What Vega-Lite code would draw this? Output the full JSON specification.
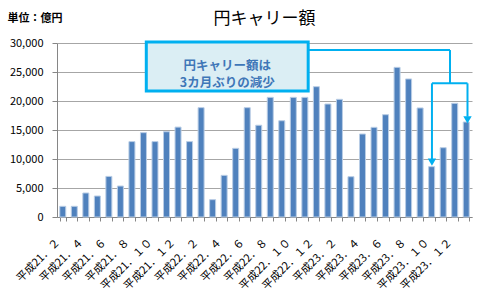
{
  "$schema": "https://vega.github.io/schema/vega-lite/v6.json",
  "width": 415,
  "height": 174,
  "autosize": "none",
  "padding": {"left": 57, "top": 43, "right": 5, "bottom": 71},
  "background": "white",
  "config": {
    "view": {"stroke": null},
    "font": "Noto Sans CJK JP",
    "axis": {"labelFont": "Noto Sans CJK JP", "titleFont": "Noto Sans CJK JP"}
  },
  "title": {
    "text": "円キャリー額",
    "fontSize": 17,
    "fontWeight": "normal",
    "color": "#000000",
    "anchor": "middle",
    "offset": 0,
    "dy": 16,
    "font": "Noto Sans CJK JP"
  },
  "encoding": {
    "x": {
      "type": "nominal",
      "sort": null,
      "scale": {"paddingInner": 0.48, "paddingOuter": 0.24},
      "axis": {
        "title": null,
        "labelAngle": -45,
        "labelFontSize": 11,
        "labelColor": "#000000",
        "labelExpr": "(datum.value == '平成21．３' || datum.value == '平成21．５' || datum.value == '平成21．７' || datum.value == '平成21．９' || datum.value == '平成21．１１' || datum.value == '平成22．１' || datum.value == '平成22．３' || datum.value == '平成22．５' || datum.value == '平成22．７' || datum.value == '平成22．９' || datum.value == '平成22．１１' || datum.value == '平成23．１' || datum.value == '平成23．３' || datum.value == '平成23．５' || datum.value == '平成23．７' || datum.value == '平成23．９' || datum.value == '平成23．１１' || datum.value == '平成24．１') ? '' : datum.value",
        "labelPadding": 15,
        "labelOffset": -9,
        "tickBand": "extent",
        "tickSize": 4,
        "tickColor": "#868686",
        "domainColor": "#868686",
        "grid": false,
        "labelOverlap": false
      }
    },
    "y": {
      "type": "quantitative",
      "scale": {"domain": [0, 30000], "nice": false},
      "axis": {
        "title": "単位：億円",
        "titleAngle": 0,
        "titleAlign": "left",
        "titleBaseline": "middle",
        "titleX": -50,
        "titleY": -25,
        "titleFontSize": 11,
        "titleFontWeight": "bold",
        "titleColor": "#000000",
        "tickCount": 6,
        "labelExpr": "datum.value == 0 ? '0' : datum.value == 5000 ? '5,000' : datum.value == 10000 ? '10,000' : datum.value == 15000 ? '15,000' : datum.value == 20000 ? '20,000' : datum.value == 25000 ? '25,000' : datum.value == 30000 ? '30,000' : ''",
        "labelFontSize": 11,
        "labelColor": "#000000",
        "labelPadding": 9,
        "tickSize": 5,
        "tickColor": "#868686",
        "domainColor": "#868686",
        "grid": true,
        "gridColor": "#A6A6A6"
      }
    }
  },
  "layer": [
    {
      "data": {
        "values": [
          {"m": "平成21．２", "v": 1840},
          {"m": "平成21．３", "v": 1840},
          {"m": "平成21．４", "v": 4140},
          {"m": "平成21．５", "v": 3620},
          {"m": "平成21．６", "v": 7000},
          {"m": "平成21．７", "v": 5340},
          {"m": "平成21．８", "v": 13000},
          {"m": "平成21．９", "v": 14540},
          {"m": "平成21．１０", "v": 13000},
          {"m": "平成21．１１", "v": 14700},
          {"m": "平成21．１２", "v": 15500},
          {"m": "平成22．１", "v": 13000},
          {"m": "平成22．２", "v": 18850},
          {"m": "平成22．３", "v": 2990},
          {"m": "平成22．４", "v": 7180},
          {"m": "平成22．５", "v": 11840},
          {"m": "平成22．６", "v": 18850},
          {"m": "平成22．７", "v": 15820},
          {"m": "平成22．８", "v": 20630},
          {"m": "平成22．９", "v": 16600},
          {"m": "平成22．１０", "v": 20630},
          {"m": "平成22．１１", "v": 20630},
          {"m": "平成22．１２", "v": 22470},
          {"m": "平成23．１", "v": 19480},
          {"m": "平成23．２", "v": 20290},
          {"m": "平成23．３", "v": 6950},
          {"m": "平成23．４", "v": 14310},
          {"m": "平成23．５", "v": 15460},
          {"m": "平成23．６", "v": 17640},
          {"m": "平成23．７", "v": 25800},
          {"m": "平成23．８", "v": 23800},
          {"m": "平成23．９", "v": 18800},
          {"m": "平成23．１０", "v": 8680},
          {"m": "平成23．１１", "v": 11950},
          {"m": "平成23．１２", "v": 19600},
          {"m": "平成24．１", "v": 16380}
        ]
      },
      "mark": {"type": "bar", "color": "#4F81BD", "stroke": "#B9CDE5", "strokeWidth": 1},
      "encoding": {
        "x": {"field": "m"},
        "y": {"field": "v"}
      }
    },
    {
      "data": {"values": [{}]},
      "mark": {"type": "rect", "fill": "#DBEEF4", "stroke": "#00B0F0", "strokeWidth": 3, "clip": false},
      "encoding": {
        "x": {"datum": "平成21．９", "bandPosition": 0.974},
        "x2": {"datum": "平成22．１１", "bandPosition": 1.057},
        "y": {"datum": 30170},
        "y2": {"datum": 21720}
      }
    },
    {
      "data": {"values": [{}]},
      "mark": {"type": "text", "color": "#3F77B8", "fontSize": 12.5, "fontWeight": "bold", "align": "center", "baseline": "middle", "lineHeight": 17, "font": "Noto Sans CJK JP"},
      "encoding": {
        "x": {"datum": "平成22．４", "bandPosition": 1.016},
        "y": {"datum": 26100},
        "text": {"value": ["円キャリー額は", "3カ月ぶりの減少"]}
      }
    },
    {
      "data": {"values": [{}]},
      "mark": {"type": "rule", "color": "#00B0F0", "strokeWidth": 2},
      "encoding": {
        "x": {"datum": "平成22．１１", "bandPosition": 1.057},
        "x2": {"datum": "平成23．１１", "bandPosition": 1.636},
        "y": {"datum": 28790}
      }
    },
    {
      "data": {"values": [{}]},
      "mark": {"type": "rule", "color": "#00B0F0", "strokeWidth": 2},
      "encoding": {
        "x": {"datum": "平成23．１１", "bandPosition": 1.636},
        "y": {"datum": 28790},
        "y2": {"datum": 23050}
      }
    },
    {
      "data": {"values": [{}]},
      "mark": {"type": "rule", "color": "#00B0F0", "strokeWidth": 2},
      "encoding": {
        "x": {"datum": "平成23．１０", "bandPosition": 0.55},
        "x2": {"datum": "平成24．１", "bandPosition": 0.71},
        "y": {"datum": 23050}
      }
    },
    {
      "data": {"values": [{}]},
      "mark": {"type": "rule", "color": "#00B0F0", "strokeWidth": 2},
      "encoding": {
        "x": {"datum": "平成23．１０", "bandPosition": 0.55},
        "y": {"datum": 23050},
        "y2": {"datum": 10000}
      }
    },
    {
      "data": {"values": [{}]},
      "mark": {"type": "rule", "color": "#00B0F0", "strokeWidth": 2},
      "encoding": {
        "x": {"datum": "平成24．１", "bandPosition": 0.71},
        "y": {"datum": 23050},
        "y2": {"datum": 17300}
      }
    },
    {
      "data": {"values": [{}]},
      "mark": {"type": "point", "shape": "triangle-down", "filled": true, "color": "#00B0F0", "size": 70, "opacity": 1},
      "encoding": {
        "x": {"datum": "平成23．１０", "bandPosition": 0.55},
        "y": {"datum": 9450}
      }
    },
    {
      "data": {"values": [{}]},
      "mark": {"type": "point", "shape": "triangle-down", "filled": true, "color": "#00B0F0", "size": 70, "opacity": 1},
      "encoding": {
        "x": {"datum": "平成24．１", "bandPosition": 0.71},
        "y": {"datum": 16750}
      }
    }
  ]
}
